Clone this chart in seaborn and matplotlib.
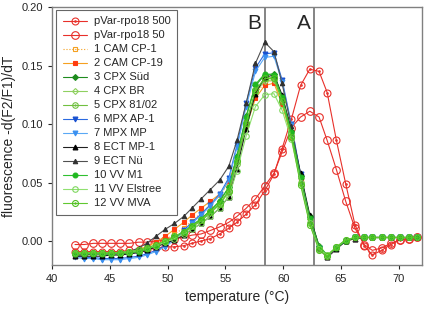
import numpy as np
import matplotlib
matplotlib.use("Agg")
import matplotlib.pyplot as plt
from matplotlib.path import Path
import seaborn as sns

sns.set_style("ticks")
plt.rcParams['font.family'] = ['Liberation Sans', 'DejaVu Sans']

# temperatures (°C) of the melting curve points
temps = [42.0, 42.8, 43.6, 44.3, 45.1, 45.9, 46.7, 47.5, 48.2, 49.0,
         49.8, 50.6, 51.4, 52.1, 52.9, 53.7, 54.5, 55.3, 56.0, 56.8,
         57.6, 58.4, 59.2, 59.9, 60.7, 61.5, 62.3, 63.1, 63.8, 64.6,
         65.4, 66.2, 67.0, 67.7, 68.5, 69.3, 70.1, 70.9, 71.6]

pvar500 = [-0.009, -0.009, -0.009, -0.009, -0.009, -0.009, -0.008, -0.008, -0.007, -0.006,
           -0.005, -0.005, -0.004, -0.002, 0.000, 0.002, 0.006, 0.011, 0.016, 0.023,
           0.031, 0.043, 0.057, 0.079, 0.104, 0.133, 0.147, 0.145, 0.127, 0.086,
           0.049, 0.014, -0.004, -0.012, -0.008, -0.003, 0.001, 0.002, 0.003]
pvar50 = [-0.003, -0.003, -0.002, -0.002, -0.002, -0.002, -0.002, -0.001, -0.001, 0.000,
          0.001, 0.002, 0.003, 0.005, 0.006, 0.009, 0.012, 0.016, 0.021, 0.028,
          0.036, 0.047, 0.058, 0.076, 0.097, 0.106, 0.111, 0.106, 0.086, 0.061,
          0.034, 0.011, -0.003, -0.008, -0.006, -0.002, 0.001, 0.002, 0.003]
cam_cp1 = [-0.011, -0.011, -0.011, -0.011, -0.011, -0.010, -0.010, -0.009, -0.006, -0.003,
           0.001, 0.006, 0.011, 0.017, 0.024, 0.031, 0.039, 0.050, 0.072, 0.102,
           0.125, 0.136, 0.137, 0.118, 0.090, 0.052, 0.018, -0.006, -0.012, -0.006,
           0.000, 0.003, 0.003, 0.003, 0.003, 0.003, 0.003, 0.003, 0.003]
cam_cp19 = [-0.011, -0.011, -0.011, -0.010, -0.010, -0.010, -0.009, -0.007, -0.005, -0.001,
            0.004, 0.010, 0.016, 0.022, 0.028, 0.034, 0.040, 0.051, 0.070, 0.098,
            0.122, 0.133, 0.135, 0.117, 0.089, 0.052, 0.019, -0.005, -0.012, -0.006,
            0.000, 0.002, 0.003, 0.003, 0.003, 0.003, 0.003, 0.003, 0.003]
cpx_sud = [-0.012, -0.012, -0.011, -0.011, -0.011, -0.011, -0.010, -0.009, -0.007, -0.004,
           -0.001, 0.003, 0.008, 0.013, 0.019, 0.026, 0.034, 0.046, 0.073, 0.107,
           0.133, 0.142, 0.143, 0.124, 0.094, 0.056, 0.021, -0.004, -0.012, -0.006,
           0.000, 0.003, 0.003, 0.003, 0.003, 0.003, 0.003, 0.003, 0.003]
cpx_br = [-0.011, -0.011, -0.011, -0.011, -0.011, -0.010, -0.010, -0.009, -0.007, -0.004,
          -0.001, 0.003, 0.007, 0.012, 0.018, 0.025, 0.032, 0.043, 0.068, 0.100,
          0.127, 0.137, 0.138, 0.121, 0.092, 0.054, 0.019, -0.005, -0.012, -0.006,
          0.000, 0.003, 0.003, 0.003, 0.003, 0.003, 0.003, 0.003, 0.003]
cpx_8102 = [-0.010, -0.010, -0.010, -0.010, -0.010, -0.010, -0.009, -0.008, -0.006, -0.004,
            -0.001, 0.003, 0.007, 0.012, 0.017, 0.024, 0.031, 0.042, 0.066, 0.099,
            0.128, 0.139, 0.140, 0.122, 0.091, 0.050, 0.015, -0.007, -0.013, -0.006,
            0.000, 0.003, 0.003, 0.003, 0.003, 0.003, 0.003, 0.003, 0.003]
mpx_ap1 = [-0.013, -0.014, -0.014, -0.015, -0.015, -0.015, -0.014, -0.013, -0.011, -0.008,
           -0.004, 0.002, 0.009, 0.016, 0.023, 0.031, 0.040, 0.054, 0.082, 0.118,
           0.148, 0.160, 0.161, 0.138, 0.100, 0.057, 0.019, -0.006, -0.013, -0.006,
           0.000, 0.003, 0.003, 0.003, 0.003, 0.003, 0.003, 0.003, 0.003]
mpx_mp = [-0.014, -0.015, -0.015, -0.016, -0.016, -0.016, -0.015, -0.014, -0.012, -0.009,
          -0.005, 0.001, 0.008, 0.015, 0.022, 0.030, 0.039, 0.052, 0.080, 0.115,
          0.145, 0.157, 0.158, 0.136, 0.099, 0.056, 0.019, -0.006, -0.013, -0.006,
          0.000, 0.003, 0.003, 0.003, 0.003, 0.003, 0.003, 0.003, 0.003]
ect_mp1 = [-0.013, -0.013, -0.013, -0.013, -0.012, -0.012, -0.011, -0.010, -0.008, -0.005,
           -0.002, 0.001, 0.005, 0.010, 0.015, 0.021, 0.028, 0.038, 0.062, 0.096,
           0.126, 0.140, 0.142, 0.125, 0.095, 0.058, 0.022, -0.005, -0.014, -0.007,
           0.000, 0.002, 0.003, 0.003, 0.003, 0.003, 0.003, 0.003, 0.003]
ect_nu = [-0.012, -0.012, -0.011, -0.011, -0.011, -0.010, -0.009, -0.006, -0.002, 0.004,
          0.010, 0.015, 0.021, 0.028, 0.036, 0.044, 0.052, 0.064, 0.086, 0.118,
          0.152, 0.170, 0.162, 0.135, 0.098, 0.055, 0.018, -0.007, -0.014, -0.006,
          0.001, 0.002, 0.003, 0.003, 0.003, 0.003, 0.003, 0.003, 0.003]
vv_m1 = [-0.011, -0.011, -0.011, -0.011, -0.011, -0.010, -0.010, -0.009, -0.007, -0.004,
         -0.001, 0.003, 0.008, 0.013, 0.019, 0.026, 0.034, 0.046, 0.072, 0.106,
         0.134, 0.143, 0.142, 0.123, 0.093, 0.055, 0.020, -0.005, -0.012, -0.006,
         0.000, 0.003, 0.003, 0.003, 0.003, 0.003, 0.003, 0.003, 0.003]
vv_elstree = [-0.010, -0.010, -0.010, -0.010, -0.010, -0.010, -0.009, -0.008, -0.006, -0.004,
              -0.001, 0.002, 0.006, 0.010, 0.015, 0.021, 0.028, 0.038, 0.060, 0.090,
              0.115, 0.125, 0.126, 0.112, 0.087, 0.050, 0.015, -0.007, -0.012, -0.005,
              0.001, 0.003, 0.003, 0.003, 0.003, 0.003, 0.003, 0.003, 0.003]
vv_mva = [-0.010, -0.010, -0.010, -0.010, -0.010, -0.010, -0.009, -0.008, -0.006, -0.003,
          0.000, 0.004, 0.008, 0.013, 0.018, 0.025, 0.032, 0.043, 0.068, 0.101,
          0.129, 0.139, 0.139, 0.120, 0.089, 0.048, 0.014, -0.008, -0.013, -0.005,
          0.001, 0.003, 0.003, 0.003, 0.003, 0.003, 0.003, 0.003, 0.003]

# circle with a dot inside
dot_circle = Path.make_compound_path(Path.circle(radius=1.0), Path.circle(radius=0.22))

# (label, values, line colour, marker, marker size, face, edge, linestyle)
series = [
    ("pVar-rpo18 500", pvar500, "#e8302a", dot_circle, 5, "none", "#e8302a", "-"),
    ("pVar-rpo18 50", pvar50, "#e8302a", "o", 5.5, "none", "#e8302a", "-"),
    ("1 CAM CP-1", cam_cp1, "#f5a020", "s", 3, "none", "#f5a020", ":"),
    ("2 CAM CP-19", cam_cp19, "#f5a020", "s", 3.2, "#ff3c10", "#ff3c10", "-"),
    ("3 CPX Süd", cpx_sud, "#1e8c1e", "D", 3, "#1e8c1e", "#1e8c1e", "-"),
    ("4 CPX BR", cpx_br, "#8fd060", "D", 3, "none", "#8fd060", "-"),
    ("5 CPX 81/02", cpx_8102, "#70c040", dot_circle, 4, "none", "#70c040", "-"),
    ("6 MPX AP-1", mpx_ap1, "#2a6ae0", "v", 3.5, "#1850d0", "#1850d0", "-"),
    ("7 MPX MP", mpx_mp, "#5aa8f5", "v", 3.5, "#3a90f0", "#3a90f0", "-"),
    ("8 ECT MP-1", ect_mp1, "#202020", "^", 3.5, "#000000", "#000000", "-"),
    ("9 ECT Nü", ect_nu, "#505050", "^", 3.2, "#303030", "#303030", "-"),
    ("10 VV M1", vv_m1, "#30c030", "o", 3.5, "#20b820", "#20b820", "-"),
    ("11 VV Elstree", vv_elstree, "#90e070", "o", 4, "none", "#80d860", "-"),
    ("12 VV MVA", vv_mva, "#60c830", dot_circle, 4.3, "none", "#50c020", "-"),
]

fig, ax = plt.subplots(figsize=(4.25, 3.11), dpi=100)
fig.subplots_adjust(left=0.122, right=0.993, top=0.977, bottom=0.148)

# melting point markers
ax.axvline(58.4, color="#707070", lw=1.2, zorder=1)
ax.axvline(62.7, color="#707070", lw=1.2, zorder=1)
ax.text(58.1, 0.186, "B", fontsize=15, ha="right", va="center")
ax.text(62.4, 0.186, "A", fontsize=15, ha="right", va="center")

for label, vals, col, mk, ms, mfc, mec, ls in series:
    sns.lineplot(x=temps, y=vals, ax=ax, label=label, color=col, linewidth=0.8,
                 linestyle=ls, marker=mk, markersize=ms, markerfacecolor=mfc,
                 markeredgecolor=mec, markeredgewidth=0.8)

ax.set_xlim(40, 72)
ax.set_ylim(-0.0205, 0.20)
ax.set_xticks([40, 45, 50, 55, 60, 65, 70])
ax.set_yticks([0.00, 0.05, 0.10, 0.15, 0.20])
ax.yaxis.set_major_formatter(matplotlib.ticker.FormatStrFormatter("%.2f"))
ax.tick_params(labelsize=8, length=3, width=0.8)
ax.set_xlabel("temperature (°C)", fontsize=10)
ax.set_ylabel("fluorescence -d(F2/F1)/dT", fontsize=10)
for sp in ax.spines.values():
    sp.set_color("#808080")
    sp.set_linewidth(1.0)

leg = ax.legend(loc="upper left", bbox_to_anchor=(0.012, 0.99), borderaxespad=0,
                fontsize=8, labelspacing=0.36, handlelength=2.2, handletextpad=0.6,
                fancybox=False, frameon=True, borderpad=0.6)
leg.get_frame().set_edgecolor("#404040")
leg.get_frame().set_linewidth(0.8)

plt.savefig("out.png", dpi=100)
